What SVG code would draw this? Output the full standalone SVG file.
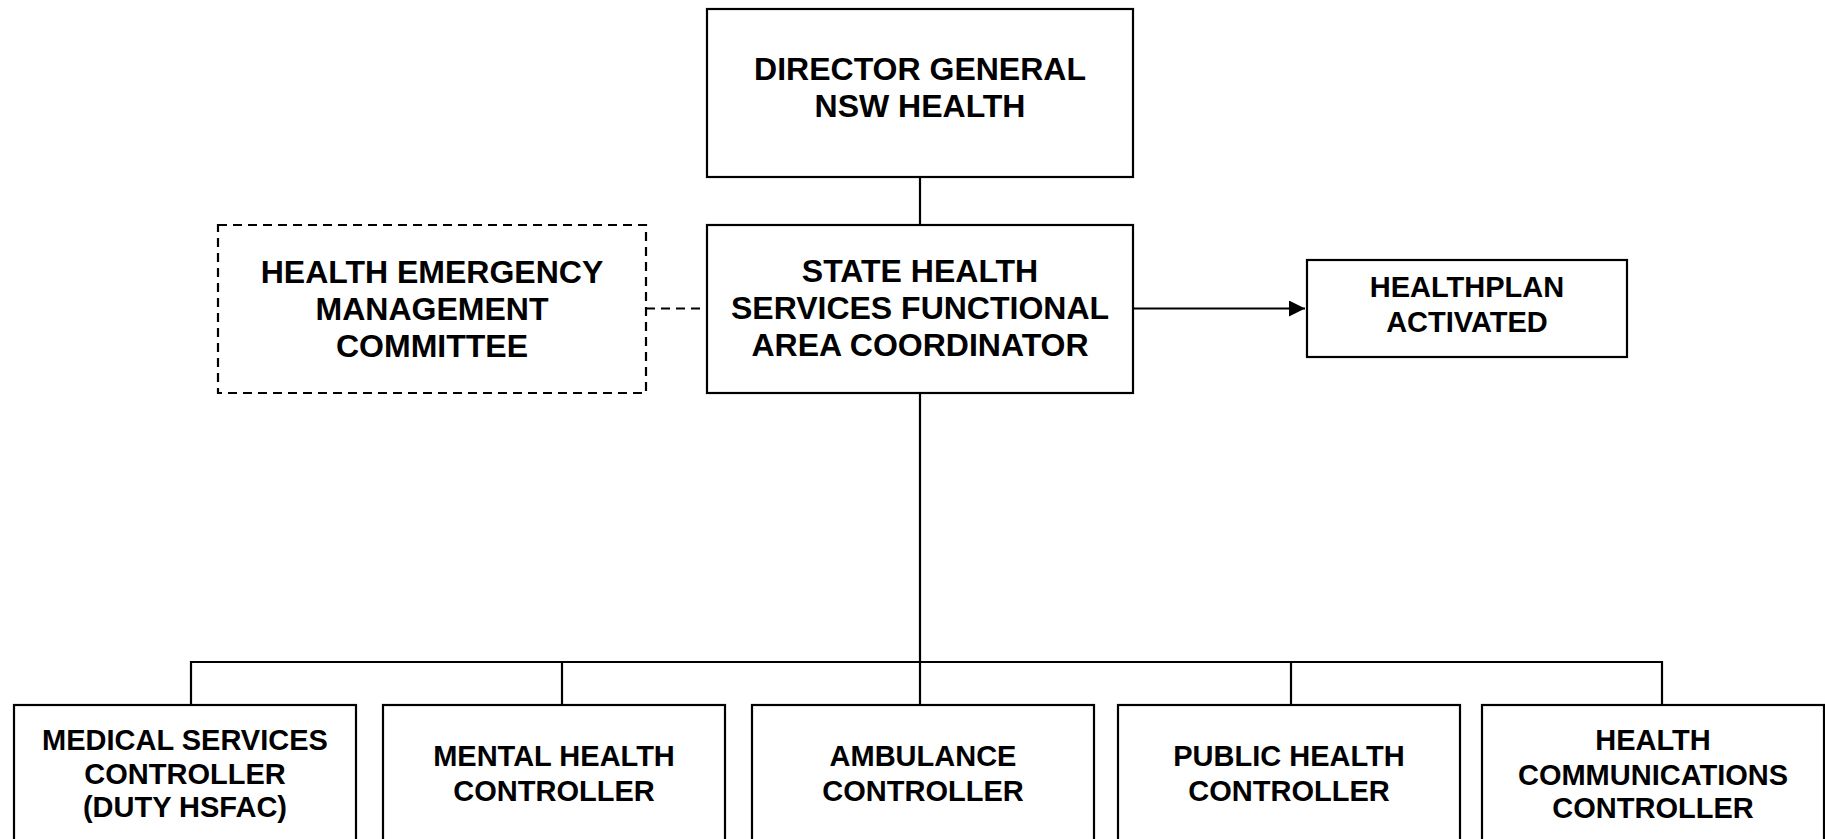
<svg xmlns="http://www.w3.org/2000/svg" width="1825" height="839" viewBox="0 0 1825 839">
<style>
.box{fill:#fff;stroke:#000;stroke-width:2.2}
.dash{stroke-dasharray:9 6}
.t{font-family:"Liberation Sans",Arial,sans-serif;font-weight:bold;fill:#000;text-anchor:middle}
.t32{font-size:32px}
.t29{font-size:29px}
.ln{fill:none;stroke:#000;stroke-width:2.2}
</style>
<defs>
<marker id="arr" markerWidth="16" markerHeight="16" refX="16" refY="8" orient="auto" markerUnits="userSpaceOnUse">
<path d="M0,0 L16,8 L0,16 Z" fill="#000"/>
</marker>
</defs>
<g id="connectors">
<line class="ln" x1="920" y1="177" x2="920" y2="225"/>
<line class="ln dash" x1="646" y1="308.5" x2="707" y2="308.5"/>
<line class="ln" x1="1133" y1="308.5" x2="1305" y2="308.5" marker-end="url(#arr)"/>
<line class="ln" x1="920" y1="393" x2="920" y2="662"/>
<polyline class="ln" points="191,705 191,662 1662,662 1662,705"/>
<line class="ln" x1="562" y1="662" x2="562" y2="705"/>
<line class="ln" x1="920" y1="662" x2="920" y2="705"/>
<line class="ln" x1="1291" y1="662" x2="1291" y2="705"/>
</g>
<g id="director">
<rect class="box" x="707" y="9" width="426" height="168"/>
<text class="t t32" x="920" y="80">DIRECTOR GENERAL</text>
<text class="t t32" x="920" y="117">NSW HEALTH</text>
</g>
<g id="shsfac">
<rect class="box" x="707" y="225" width="426" height="168"/>
<text class="t t32" x="920" y="282">STATE HEALTH</text>
<text class="t t32" x="920" y="319">SERVICES FUNCTIONAL</text>
<text class="t t32" x="920" y="356">AREA COORDINATOR</text>
</g>
<g id="hemc">
<rect class="box dash" x="218" y="225" width="428" height="168"/>
<text class="t t32" x="432" y="283">HEALTH EMERGENCY</text>
<text class="t t32" x="432" y="320">MANAGEMENT</text>
<text class="t t32" x="432" y="357">COMMITTEE</text>
</g>
<g id="healthplan">
<rect class="box" x="1307" y="260" width="320" height="97"/>
<text class="t t29" x="1467" y="297">HEALTHPLAN</text>
<text class="t t29" x="1467" y="332">ACTIVATED</text>
</g>
<g id="medical">
<rect class="box" x="14" y="705" width="342" height="150"/>
<text class="t t29" x="185" y="750">MEDICAL SERVICES</text>
<text class="t t29" x="185" y="784">CONTROLLER</text>
<text class="t t29" x="185" y="817">(DUTY HSFAC)</text>
</g>
<g id="mental">
<rect class="box" x="383" y="705" width="342" height="150"/>
<text class="t t29" x="554" y="766">MENTAL HEALTH</text>
<text class="t t29" x="554" y="801">CONTROLLER</text>
</g>
<g id="ambulance">
<rect class="box" x="752" y="705" width="342" height="150"/>
<text class="t t29" x="923" y="766">AMBULANCE</text>
<text class="t t29" x="923" y="801">CONTROLLER</text>
</g>
<g id="public">
<rect class="box" x="1118" y="705" width="342" height="150"/>
<text class="t t29" x="1289" y="766">PUBLIC HEALTH</text>
<text class="t t29" x="1289" y="801">CONTROLLER</text>
</g>
<g id="comms">
<rect class="box" x="1482" y="705" width="342" height="150"/>
<text class="t t29" x="1653" y="750">HEALTH</text>
<text class="t t29" x="1653" y="785">COMMUNICATIONS</text>
<text class="t t29" x="1653" y="818">CONTROLLER</text>
</g>
</svg>
